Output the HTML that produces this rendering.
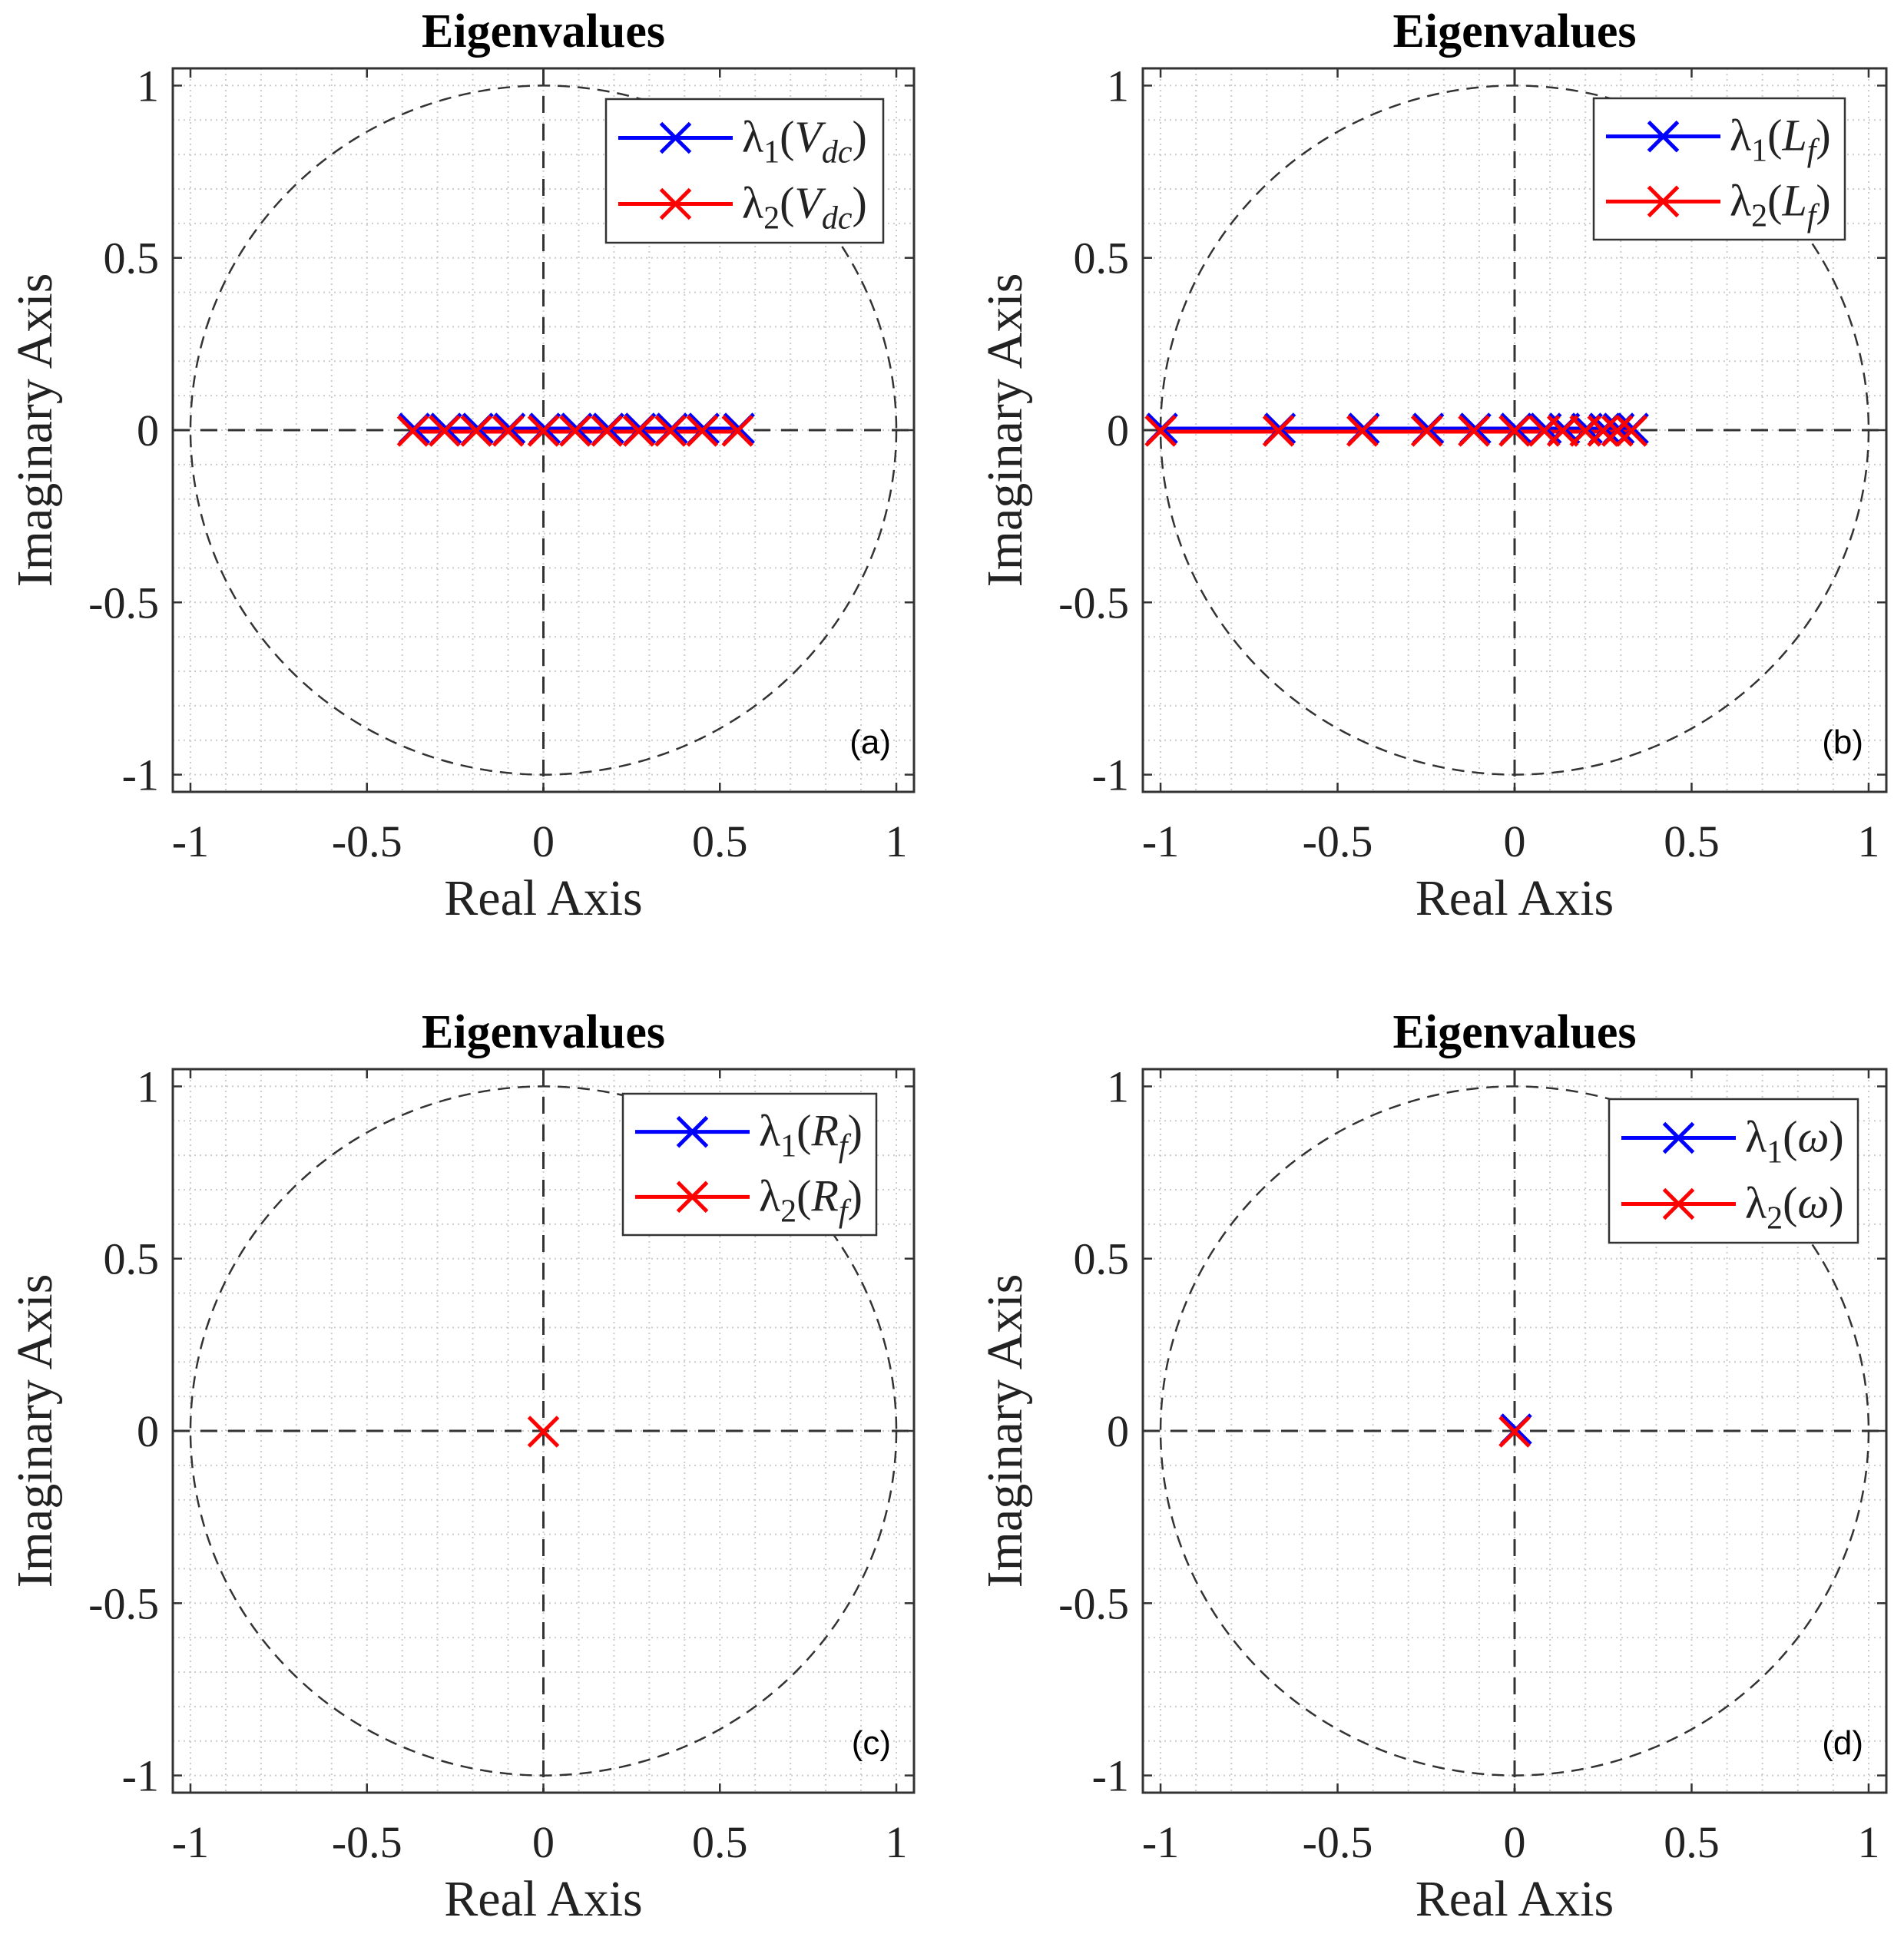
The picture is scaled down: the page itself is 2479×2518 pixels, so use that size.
<!DOCTYPE html>
<html><head><meta charset="utf-8"><style>
html,body{margin:0;padding:0;background:#fff}
svg{display:block}
text{font-family:"Liberation Serif",serif;fill:#222}
</style></head><body>
<svg id="s" xmlns="http://www.w3.org/2000/svg" width="2479" height="2518" viewBox="0 0 2479 2518"></svg>
<script>
const S=document.getElementById('s');let h='';
const panels=[
 {L:225,R:1190,T:89,B:1031,tag:'(a)',leg:[789,129,1150,316],lab:['V','dc'],type:'a'},
 {L:1488,R:2456,T:89,B:1031,tag:'(b)',leg:[2075,128,2402,312],lab:['L','f'],type:'b'},
 {L:225,R:1190,T:1392,B:2334,tag:'(c)',leg:[811,1424,1141,1608],lab:['R','f'],type:'c'},
 {L:1488,R:2456,T:1392,B:2334,tag:'(d)',leg:[2095,1431,2419,1618],lab:['ω',''],type:'d'}
];
function X(m,s,c,w){const r=19;return `<path d="M${m-r},${s-r}L${m+r},${s+r}M${m-r},${s+r}L${m+r},${s-r}" stroke="${c}" stroke-width="${w||5}" fill="none"/>`;}
for(const p of panels){
 const cx=(p.L+p.R)/2,cy=(p.T+p.B)/2,sx=(p.R-p.L)/2.1,sy=(p.B-p.T)/2.1;
 const fx=v=>cx+v*sx,fy=v=>cy-v*sy;
 for(let i=-10;i<=10;i++){const v=i/10;
  h+=`<line x1="${fx(v)}" y1="${p.T}" x2="${fx(v)}" y2="${p.B}" stroke="#ccc" stroke-width="2" stroke-dasharray="2,5"/>`;
  h+=`<line x1="${p.L}" y1="${fy(v)}" x2="${p.R}" y2="${fy(v)}" stroke="#ccc" stroke-width="2" stroke-dasharray="2,5"/>`;}
 h+=`<ellipse cx="${cx}" cy="${cy}" rx="${sx}" ry="${sy}" fill="none" stroke="#333" stroke-width="2.5" stroke-dasharray="16,10"/>`;
 h+=`<line x1="${p.L}" y1="${cy}" x2="${p.R}" y2="${cy}" stroke="#333" stroke-width="3" stroke-dasharray="22,14"/>`;
 h+=`<line x1="${cx}" y1="${p.T}" x2="${cx}" y2="${p.B}" stroke="#333" stroke-width="3" stroke-dasharray="22,14"/>`;
 for(const v of [-1,-0.5,0,0.5,1]){
  const t=v===0?'0':String(v);
  h+=`<line x1="${fx(v)}" y1="${p.B}" x2="${fx(v)}" y2="${p.B-12}" stroke="#333" stroke-width="2.5"/><line x1="${fx(v)}" y1="${p.T}" x2="${fx(v)}" y2="${p.T+12}" stroke="#333" stroke-width="2.5"/>`;
  h+=`<line x1="${p.L}" y1="${fy(v)}" x2="${p.L+12}" y2="${fy(v)}" stroke="#333" stroke-width="2.5"/><line x1="${p.R}" y1="${fy(v)}" x2="${p.R-12}" y2="${fy(v)}" stroke="#333" stroke-width="2.5"/>`;
  h+=`<text x="${fx(v)}" y="${p.B+84}" font-size="58" text-anchor="middle">${t}</text>`;
  h+=`<text x="${p.L-18}" y="${fy(v)+20}" font-size="58" text-anchor="end">${t}</text>`;
 }
 h+=`<rect x="${p.L}" y="${p.T}" width="${p.R-p.L}" height="${p.B-p.T}" fill="none" stroke="#333" stroke-width="3"/>`;
 h+=`<text x="${cx}" y="${p.T-28}" font-size="62" font-weight="bold" text-anchor="middle" style="fill:#000">Eigenvalues</text>`;
 h+=`<text x="${cx}" y="${p.B+160}" font-size="66" text-anchor="middle">Real Axis</text>`;
 h+=`<text transform="translate(${p.L-158},${cy}) rotate(-90)" font-size="66" text-anchor="middle">Imaginary Axis</text>`;
 h+=`<text x="${p.R-30}" y="${p.B-50}" font-size="44" text-anchor="end" style="font-family:'Liberation Sans',sans-serif;fill:#000">${p.tag}</text>`;
 let xs=[];
 if(p.type==='a')xs=[-0.37,-0.28,-0.19,-0.1,0,0.09,0.18,0.27,0.36,0.45,0.55];
 if(p.type==='b')xs=[-1,-0.667,-0.43,-0.248,-0.115,0,0.084,0.136,0.2,0.25,0.29,0.33];
 if(p.type==='c'||p.type==='d')xs=[0];
 if(xs.length>1){
  h+=`<line x1="${fx(xs[0])}" y1="${cy-2}" x2="${fx(xs[xs.length-1])}" y2="${cy-2}" stroke="#00f" stroke-width="5"/>`;
  h+=`<line x1="${fx(xs[0])}" y1="${cy+2}" x2="${fx(xs[xs.length-1])}" y2="${cy+2}" stroke="#f00" stroke-width="5"/>`;
 }
 if(p.type!=='c') for(const v of xs){h+=X(fx(v)+2,cy-2,'#00f',5);}
 for(const v of xs){h+=X(fx(v),cy+1,'#f00',5);}
 const [a,b,c,d]=p.leg;
 h+=`<rect x="${a}" y="${b}" width="${c-a}" height="${d-b}" fill="#fff" stroke="#333" stroke-width="2.5"/>`;
 const r1=b+(d-b)*0.27,r2=b+(d-b)*0.73;
 const l0=a+16,l1=a+165,m=(l0+l1)/2;
 [[r1,'#00f','1'],[r2,'#f00','2']].forEach(([y,col,n])=>{
  h+=`<line x1="${l0}" y1="${y}" x2="${l1}" y2="${y}" stroke="${col}" stroke-width="5"/>`+X(m,y,col,5);
  const sub=p.lab[1]?`<tspan font-size="42" font-style="italic" dy="14">${p.lab[1]}</tspan><tspan dy="-14">)</tspan>`:`)`;
  h+=`<text x="${l1+12}" y="${y+18}" font-size="58">λ<tspan font-size="42" dy="14">${n}</tspan><tspan dy="-14">(</tspan><tspan font-style="italic">${p.lab[0]}</tspan>${sub}</text>`;
 });
}
S.innerHTML=h;
</script>
</body></html>
